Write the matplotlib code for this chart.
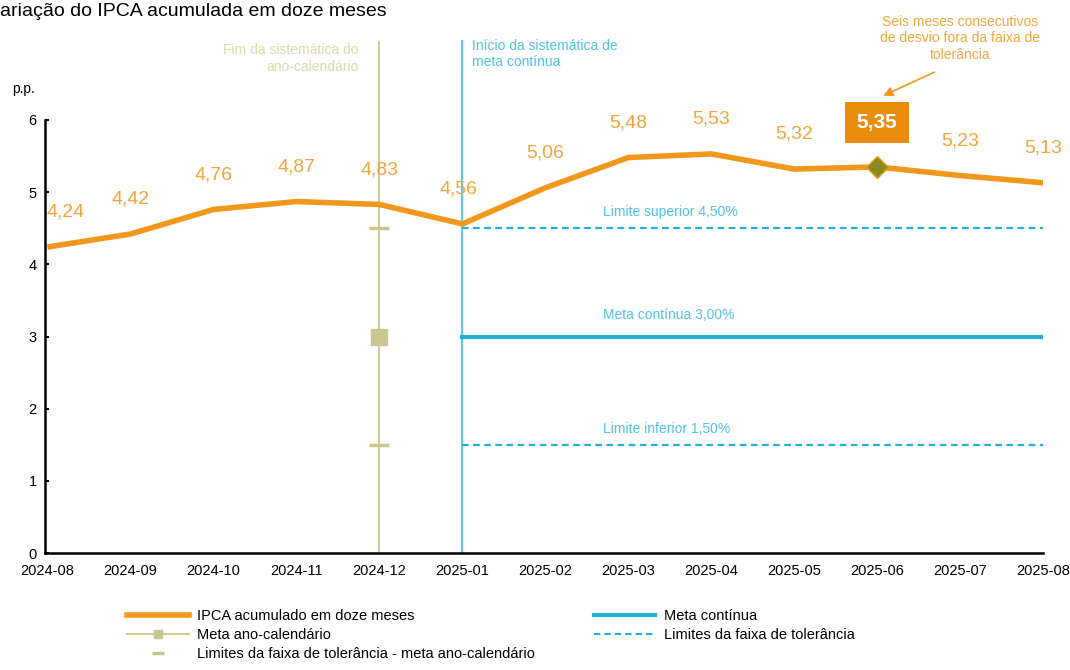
import matplotlib
matplotlib.use('Agg')
import matplotlib.pyplot as plt
from matplotlib.lines import Line2D

plt.rcParams['font.family'] = ['Liberation Sans', 'DejaVu Sans']

# dados
meses = ['2024-08', '2024-09', '2024-10', '2024-11', '2024-12', '2025-01', '2025-02',
         '2025-03', '2025-04', '2025-05', '2025-06', '2025-07', '2025-08']
ipca = [4.24, 4.42, 4.76, 4.87, 4.83, 4.56, 5.06, 5.48, 5.53, 5.32, 5.35, 5.23, 5.13]
rotulos = ['4,24', '4,42', '4,76', '4,87', '4,83', '4,56', '5,06', '5,48', '5,53', '5,32', '5,35', '5,23', '5,13']
meta_ano = 3.0
limites_ano = [4.5, 1.5]
meta_continua = 3.0
limite_sup = 4.5
limite_inf = 1.5
inicio_continua = '2025-01'
fim_ano = '2024-12'
destaque = '2025-06'

laranja = '#F0971C'
laranja_txt = '#F2A53A'
ciano = '#23AEDB'
ciano_txt = '#4DC3E6'
caqui = '#C9C78F'
caqui_txt = '#DCDBA8'

fig = plt.figure(figsize=(10.7, 6.7), dpi=100)
ax = fig.add_axes([0.042, 0.1746, 0.933, 0.6463])

x = list(range(len(meses)))
i_ini = meses.index(inicio_continua)
i_fim = meses.index(fim_ano)
i_dest = meses.index(destaque)

# linhas verticais
ax.plot([i_fim, i_fim], [0, 7.08], color=caqui, lw=1.3, clip_on=False, zorder=1)
ax.plot([i_ini, i_ini], [0, 7.1], color=ciano_txt, lw=1.3, clip_on=False, zorder=1)

# meta continua e limites
xs_cont = x[i_ini:]
ax.plot(xs_cont, [meta_continua] * len(xs_cont), color=ciano, lw=3, zorder=2)
ax.plot(xs_cont, [limite_sup] * len(xs_cont), color=ciano, lw=1.6, ls=(0, (3, 2)), zorder=2)
ax.plot(xs_cont, [limite_inf] * len(xs_cont), color=ciano, lw=1.6, ls=(0, (3, 2)), zorder=2)

# meta ano-calendario
ax.plot([i_fim], [meta_ano], marker='s', ms=11, color=caqui, ls='none', zorder=3)
ax.plot([i_fim] * 2, limites_ano, marker='_', ms=14, mew=2.5, color=caqui, ls='none', zorder=3)

# IPCA
ax.plot(x, ipca, color=laranja, lw=4, solid_capstyle='butt', zorder=4)
ax.plot([i_dest], [ipca[i_dest]], marker='D', ms=11, color='#8C8C1E', mec=laranja, mew=1, zorder=5)

for i, (v, r) in enumerate(zip(ipca, rotulos)):
    if i == i_dest:
        ax.annotate(r, (i, v), xytext=(0, 32), textcoords='offset points', ha='center', va='center',
                    fontsize=15, fontweight='bold', color='white',
                    bbox=dict(boxstyle='square,pad=0.55', fc='#EA8C0C', ec='none'), zorder=6)
    else:
        dx = 13 if i == 0 else (-3 if i == i_ini else 0)
        ax.annotate(r, (i, v), xytext=(dx, 25), textcoords='offset points', ha='center', va='center',
                    fontsize=14, color=laranja_txt, zorder=6)

# textos das faixas
ax.text(6.7, 4.5 + 0.23, 'Limite superior 4,50%', color=ciano_txt, fontsize=10, va='center')
ax.text(6.7, 3.0 + 0.3, 'Meta contínua 3,00%', color=ciano_txt, fontsize=10, va='center')
ax.text(6.7, 1.5 + 0.22, 'Limite inferior 1,50%', color=ciano_txt, fontsize=10, va='center')

ax.text(3.75, 7.06, 'Fim da sistemática do\nano-calendário', color=caqui_txt, fontsize=10,
        ha='right', va='top', clip_on=False)
ax.text(5.12, 7.12, 'Início da sistemática de\nmeta contínua', color=ciano_txt, fontsize=10,
        ha='left', va='top', clip_on=False)

# nota e seta
ax.text(11.0, 7.46, 'Seis meses consecutivos\nde desvio fora da faixa de\ntolerância', color=laranja_txt,
        fontsize=10, ha='center', va='top', linespacing=1.25, clip_on=False)
ax.annotate('', xy=(10.04, 6.32), xytext=(10.72, 6.68),
            arrowprops=dict(arrowstyle='-|>', color=laranja, lw=1.2, mutation_scale=14),
            annotation_clip=False)

ax.set_xlim(-0.03, 12)
ax.set_ylim(0, 6)
ax.set_xticks(x)
ax.set_xticklabels(meses, fontsize=10.5)
ax.set_yticks(range(7))
ax.tick_params(axis='y', direction='in', length=3, width=1.5, labelsize=10.5, pad=6)
ax.tick_params(axis='x', length=0, labelsize=10.5, pad=8)
for s in ['top', 'right']:
    ax.spines[s].set_visible(False)
ax.spines['left'].set_linewidth(1.8)
ax.spines['bottom'].set_linewidth(1.8)

fig.text(0.0, 1 - 12 / 670, 'ariação do IPCA acumulada em doze meses', fontsize=14, va='center', ha='left')
fig.text(12 / 1070, 1 - 89 / 670, 'p.p.', fontsize=10, va='center', ha='left')

# legenda
handles = [
    Line2D([], [], color=laranja, lw=4),
    Line2D([], [], color=caqui, lw=1.3, marker='s', ms=6),
    Line2D([], [], color=caqui, ls='none', marker='_', ms=8, mew=2.5),
    Line2D([], [], color=ciano, lw=3),
    Line2D([], [], color=ciano, lw=1.5, ls=(0, (3, 2))),
]
labels = ['IPCA acumulado em doze meses', 'Meta ano-calendário',
          'Limites da faixa de tolerância - meta ano-calendário', 'Meta contínua',
          'Limites da faixa de tolerância']
fig.legend(handles, labels, ncol=2, loc='upper left', bbox_to_anchor=(120 / 1070, 1 - 602 / 670),
           frameon=False, fontsize=10.5, handlelength=4.2, handletextpad=0.6,
           columnspacing=4.0, labelspacing=0.35, borderpad=0)

fig.savefig('out.png', dpi=100)
